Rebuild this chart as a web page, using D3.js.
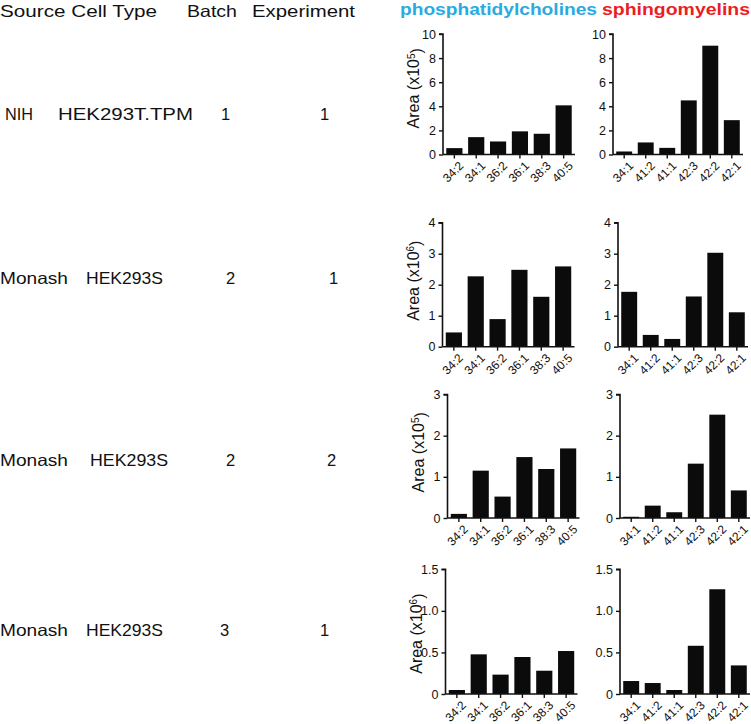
<!DOCTYPE html>
<html>
<head>
<meta charset="utf-8">
<script src="https://cdn.jsdelivr.net/npm/d3@7"></script>
<style>
  html, body { margin: 0; padding: 0; background: #fff; }
  svg { display: block; }
  text { font-family: "Liberation Sans", Arial, sans-serif; }
</style>
</head>
<body>
<svg id="chart" width="751" height="724"></svg>
<script>
// ---------------- data ----------------
const pcCategories = ["34:2", "34:1", "36:2", "36:1", "38:3", "40:5"];
const smCategories = ["34:1", "41:2", "41:1", "42:3", "42:2", "42:1"];

const sources     = ["NIH", "Monash", "Monash", "Monash"];
const cellTypes   = ["HEK293T.TPM", "HEK293S", "HEK293S", "HEK293S"];
const batches     = ["1", "2", "2", "3"];
const experiments = ["1", "1", "2", "1"];

const pcValuesRow1 = [0.53, 1.44, 1.08, 1.92, 1.72, 4.08];
const pcValuesRow2 = [0.46, 2.27, 0.89, 2.48, 1.61, 2.59];
const pcValuesRow3 = [0.10, 1.15, 0.52, 1.48, 1.19, 1.69];
const pcValuesRow4 = [0.048, 0.477, 0.233, 0.445, 0.28, 0.517];

const smValuesRow1 = [0.25, 1.0, 0.55, 4.49, 9.03, 2.85];
const smValuesRow2 = [1.77, 0.38, 0.25, 1.62, 3.03, 1.11];
const smValuesRow3 = [0.03, 0.30, 0.14, 1.32, 2.51, 0.67];
const smValuesRow4 = [0.156, 0.132, 0.048, 0.58, 1.26, 0.344];

const yMaxByRow = [10, 4, 3, 1.5];
const yTicksRow1 = [0, 2, 4, 6, 8, 10];
const yTicksRow2 = [0, 1, 2, 3, 4];
const yTicksRow3 = [0, 1, 2, 3];
const yTicksRow4 = [0, 0.5, 1.0, 1.5];
const yTickLabelsRow4 = ["0", "0.5", "1.0", "1.5"];
const pcExponents = ["5", "6", "5", "6"];

const titlePC = "phosphatidylcholines";
const titleSM = "sphingomyelins";
const headerLabels = ["Source Cell Type", "Batch", "Experiment"];

// ---------------- layout ----------------
const svg = d3.select("#chart");
const FONT = "\"Liberation Sans\", Arial, sans-serif";

const rows = [
  { pc: pcValuesRow1, sm: smValuesRow1, ticks: yTicksRow1, labels: null },
  { pc: pcValuesRow2, sm: smValuesRow2, ticks: yTicksRow2, labels: null },
  { pc: pcValuesRow3, sm: smValuesRow3, ticks: yTicksRow3, labels: null },
  { pc: pcValuesRow4, sm: smValuesRow4, ticks: yTicksRow4, labels: yTickLabelsRow4 }
];
const rowGeom = [
  { top: 34,    base: 154.5, pcX: 443,   smX: 613, textY: 120, lblDy: -6 },
  { top: 222.7, base: 346.7, pcX: 442.5, smX: 618, textY: 284, lblDy: -4 },
  { top: 394.5, base: 518,   pcX: 447.5, smX: 620, textY: 466, lblDy: -4 },
  { top: 569.3, base: 694,   pcX: 445.5, smX: 620, textY: 636, lblDy: 2 }
];
const leftText = [
  { src: [5, 28],  cell: [58, 135], batch: 221, exp: 320 },
  { src: [0, 68],  cell: [86, 77],  batch: 226, exp: 329 },
  { src: [0, 68],  cell: [90, 78],  batch: 226, exp: 327 },
  { src: [0, 68],  cell: [86, 77],  batch: 220, exp: 320 }
];

// titles
svg.append("text").attr("x", 400).attr("y", 15)
  .attr("textLength", 197).attr("lengthAdjust", "spacingAndGlyphs")
  .style("font-size", "16px").style("font-weight", "bold").attr("fill", "#29abe2")
  .text(titlePC);
svg.append("text").attr("x", 602).attr("y", 15)
  .attr("textLength", 148).attr("lengthAdjust", "spacingAndGlyphs")
  .style("font-size", "16px").style("font-weight", "bold").attr("fill", "#ed1c24")
  .text(titleSM);

// header
const headerPos = [[0, 157], [187, 50], [252, 103]];
headerLabels.forEach((t, i) => {
  svg.append("text").attr("x", headerPos[i][0]).attr("y", 16.5)
    .attr("textLength", headerPos[i][1]).attr("lengthAdjust", "spacingAndGlyphs")
    .style("font-size", "16.5px").attr("fill", "#111").text(t);
});

// row text
rows.forEach((r, i) => {
  const g = rowGeom[i], lt = leftText[i];
  svg.append("text").attr("x", lt.src[0]).attr("y", g.textY)
    .attr("textLength", lt.src[1]).attr("lengthAdjust", "spacingAndGlyphs")
    .style("font-size", "16.5px").attr("fill", "#111").text(sources[i]);
  svg.append("text").attr("x", lt.cell[0]).attr("y", g.textY)
    .attr("textLength", lt.cell[1]).attr("lengthAdjust", "spacingAndGlyphs")
    .style("font-size", "16.5px").attr("fill", "#111").text(cellTypes[i]);
  svg.append("text").attr("x", lt.batch).attr("y", g.textY)
    .style("font-size", "16.5px").attr("fill", "#111").text(batches[i]);
  svg.append("text").attr("x", lt.exp).attr("y", g.textY)
    .style("font-size", "16.5px").attr("fill", "#111").text(experiments[i]);
});

function drawPanel(axisX, top, base, width, cats, vals, yMax, ticks, tickLabels, exponent, lblDy) {
  const x = d3.scaleBand().domain(cats).range([axisX, axisX + width])
    .paddingInner(0.26).paddingOuter(0.15);
  const y = d3.scaleLinear().domain([0, yMax]).range([base, top]);
  const g = svg.append("g");

  g.selectAll("rect.bar").data(vals).join("rect")
    .attr("class", "bar")
    .attr("x", (d, i) => x(cats[i]))
    .attr("width", x.bandwidth())
    .attr("y", d => y(d))
    .attr("height", d => base - y(d))
    .attr("fill", "#0b0b0b");

  const yAxis = d3.axisLeft(y).tickValues(ticks).tickSize(4).tickPadding(3)
    .tickFormat((d, i) => tickLabels ? tickLabels[i] : String(d));
  const ya = g.append("g").attr("transform", `translate(${axisX},0)`).call(yAxis);
  ya.select(".domain").attr("d", `M-4,${top}H0V${base}`).attr("stroke", "#111").attr("stroke-width", 1.6);
  ya.selectAll(".tick line").attr("stroke", "#111").attr("stroke-width", 1.4);
  ya.selectAll(".tick text").style("font-size", "12.5px").style("font-family", FONT).attr("fill", "#111");

  const xAxis = d3.axisBottom(x).tickSize(4).tickSizeOuter(0);
  const xa = g.append("g").attr("transform", `translate(0,${base})`).call(xAxis);
  xa.select(".domain").attr("d", `M${axisX},0H${axisX + width}`).attr("stroke", "#111").attr("stroke-width", 1.6);
  xa.selectAll(".tick line").attr("stroke", "#111").attr("stroke-width", 1.4);
  xa.selectAll(".tick text")
    .attr("x", 0).attr("y", 0).attr("dy", "0.35em")
    .attr("text-anchor", "end")
    .attr("transform", "translate(7,9) rotate(-45)")
    .style("font-size", "12px").style("font-family", FONT).attr("fill", "#111");

  if (exponent) {
    const lbl = g.append("text")
      .attr("transform", `translate(${axisX - 24},${(top + base) / 2 + lblDy}) rotate(-90)`)
      .attr("text-anchor", "middle")
      .style("font-size", "16px").attr("fill", "#111");
    lbl.append("tspan").text("Area (x10");
    lbl.append("tspan").attr("dy", "-0.45em").style("font-size", "10px").text(exponent);
    lbl.append("tspan").attr("dy", "0.45em").text(")");
  }
}

rows.forEach((r, i) => {
  const g = rowGeom[i];
  drawPanel(g.pcX, g.top, g.base, 132, pcCategories, r.pc, yMaxByRow[i], r.ticks, r.labels, pcExponents[i], g.lblDy);
  drawPanel(g.smX, g.top, g.base, 130, smCategories, r.sm, yMaxByRow[i], r.ticks, r.labels, null, 0);
});
</script>
</body>
</html>
